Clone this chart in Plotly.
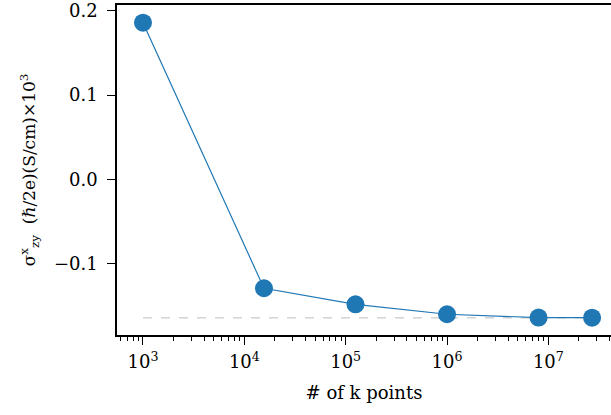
import plotly.graph_objects as go

nk = [1000, 15625, 125000, 1000000, 8000000, 27000000]
sigma = [0.1858, -0.1289, -0.1479, -0.1597, -0.1637, -0.1638]
ref_value = -0.164
xtick_vals = [1e3, 1e4, 1e5, 1e6, 1e7]
xtick_text = ["10<sup>3</sup>", "10<sup>4</sup>", "10<sup>5</sup>", "10<sup>6</sup>", "10<sup>7</sup>"]
minor_vals = [m * 10 ** e for e in range(2, 8) for m in range(2, 10)]
ytick_vals = [-0.1, 0.0, 0.1, 0.2]
ytick_text = ["\u22120.1", "0.0", "0.1", "0.2"]

FONT = "DejaVu Serif"
BLUE = "#1f77b4"

fig = go.Figure()
fig.add_trace(go.Scatter(
    x=[nk[0], nk[-1]], y=[ref_value, ref_value], mode="lines",
    line=dict(color="#bdbdbd", width=1, dash="dash"), hoverinfo="skip", showlegend=False))
fig.add_trace(go.Scatter(
    x=nk, y=sigma, mode="lines+markers",
    line=dict(color=BLUE, width=1.2),
    marker=dict(color=BLUE, size=18), showlegend=False))

fig.update_layout(
    width=611, height=415,
    margin=dict(l=117, r=0, t=5, b=80),
    plot_bgcolor="white", paper_bgcolor="white",
    font=dict(family=FONT, size=18, color="black"),
    xaxis=dict(
        type="log", range=[2.7436, 7.618],
        tickvals=xtick_vals, ticktext=xtick_text,
        tickfont=dict(family=FONT, size=18),
        showline=True, linecolor="black", linewidth=1.5, mirror=True,
        ticks="outside", ticklen=8, tickwidth=1.2, tickcolor="black",
        ticklabelstandoff=2,
        showgrid=False, zeroline=False,
        minor=dict(tickmode="array", tickvals=minor_vals, ticks="outside",
                   ticklen=4.5, tickwidth=1, tickcolor="black", showgrid=False),
        title=dict(text="# of k points", font=dict(family=FONT, size=18), standoff=15),
    ),
    yaxis=dict(
        range=[-0.1843, 0.2068],
        tickvals=ytick_vals, ticktext=ytick_text,
        tickfont=dict(family=FONT, size=18),
        showline=True, linecolor="black", linewidth=1.5, mirror=False,
        ticks="outside", ticklen=8, tickwidth=1.2, tickcolor="black",
        ticklabelstandoff=6,
        showgrid=False, zeroline=False,
        title=dict(text="\u03c3<sup>x</sup><sub>zy</sub>  (\u210f/2e)(S/cm)\u00d710<sup>3</sup>",
                   font=dict(family=FONT, size=17), standoff=14),
    ),
)

fig.write_html("out.html")
